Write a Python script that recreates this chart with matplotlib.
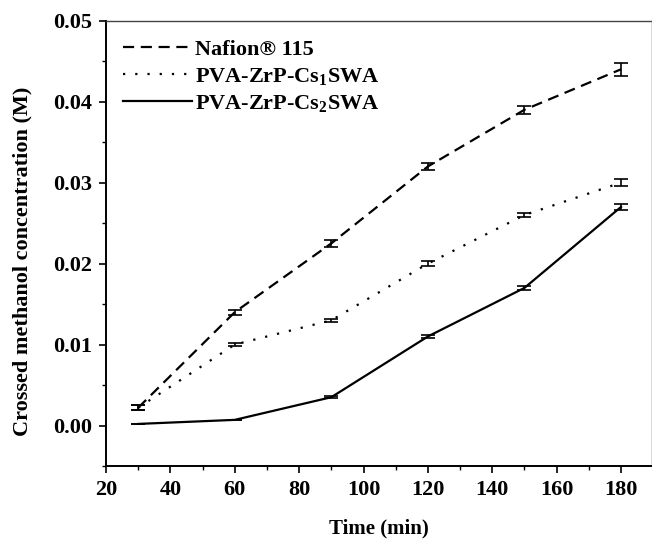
import numpy as np
import matplotlib
matplotlib.use("Agg")
import matplotlib.pyplot as plt
from matplotlib.ticker import MultipleLocator, FormatStrFormatter

plt.rcParams["font.family"] = ["Liberation Serif", "DejaVu Serif"]
plt.rcParams["font.weight"] = "bold"
plt.rcParams["mathtext.fontset"] = "custom"
plt.rcParams["mathtext.rm"] = "Liberation Serif:bold"
plt.rcParams["mathtext.it"] = "Liberation Serif:bold"
plt.rcParams["mathtext.bf"] = "Liberation Serif:bold"

# ── Data ─────────────────────────────────────────────────────────────────────
time = [30, 60, 90, 120, 150, 180]

nafion     = [0.0022, 0.0140, 0.0225, 0.0320, 0.0390, 0.0440]
nafion_err = [0.0003, 0.0003, 0.0004, 0.0004, 0.0005, 0.0008]

cs1     = [0.0022, 0.0100, 0.0130, 0.0200, 0.0260, 0.0300]
cs1_err = [0.0003, 0.0002, 0.0002, 0.0003, 0.0003, 0.0004]

cs2     = [0.0002, 0.0007, 0.0035, 0.0110, 0.0170, 0.0270]
cs2_err = [0.0000, 0.0000, 0.0001, 0.0002, 0.0002, 0.0004]

labels = ["Nafion® 115", "PVA-ZrP-Cs$_1$SWA", "PVA-ZrP-Cs$_2$SWA"]

# ── Plot ─────────────────────────────────────────────────────────────────────
fig = plt.figure(figsize=(6.52, 5.39), dpi=100)
ax = fig.add_axes([0.1626, 0.1354, 0.8368, 0.8262])

styles = [(0, (5, 3)), (0, (1, 4.5)), "-"]
handles = []
for y, err, ls in zip([nafion, cs1, cs2], [nafion_err, cs1_err, cs2_err], styles):
    c = ax.errorbar(time, y, yerr=err, color="black", linewidth=1.6,
                    linestyle=ls, capsize=5, elinewidth=1.2, capthick=1.2)
    handles.append(c[0])

ax.set_xlim(20, 189.5)
ax.set_ylim(-0.005, 0.05)
ax.xaxis.set_major_locator(MultipleLocator(20))
ax.xaxis.set_minor_locator(MultipleLocator(10))
ax.yaxis.set_major_locator(MultipleLocator(0.01))
ax.yaxis.set_minor_locator(MultipleLocator(0.005))
ax.yaxis.set_major_formatter(FormatStrFormatter("%.2f"))

ax.tick_params(which="major", direction="out", length=5, width=1.2,
               labelsize=16, pad=5, top=False, right=False)
ax.tick_params(which="minor", direction="out", length=3, width=1.0,
               top=False, right=False)
for lbl in ax.get_xticklabels() + ax.get_yticklabels():
    lbl.set_fontweight("bold")

for side in ["left", "bottom"]:
    ax.spines[side].set_linewidth(1.4)
for side in ["top", "right"]:
    ax.spines[side].set_linewidth(1.0)
    ax.spines[side].set_color("#444444")

ax.set_xlabel("Time (min)", fontsize=15, fontweight="bold")
ax.set_ylabel("Crossed methanol concentration (M)", fontsize=16,
              fontweight="bold")
ax.xaxis.set_label_coords(0.5, -0.117)
ax.yaxis.set_label_coords(-0.134, 0.46)

ax.legend(handles, labels, loc="upper left", frameon=False, fontsize=16,
          handlelength=3.1, handletextpad=0.15, labelspacing=0.28,
          borderpad=0, borderaxespad=0, bbox_to_anchor=(0.031, 0.959))

fig.savefig("out.png", dpi=100)
